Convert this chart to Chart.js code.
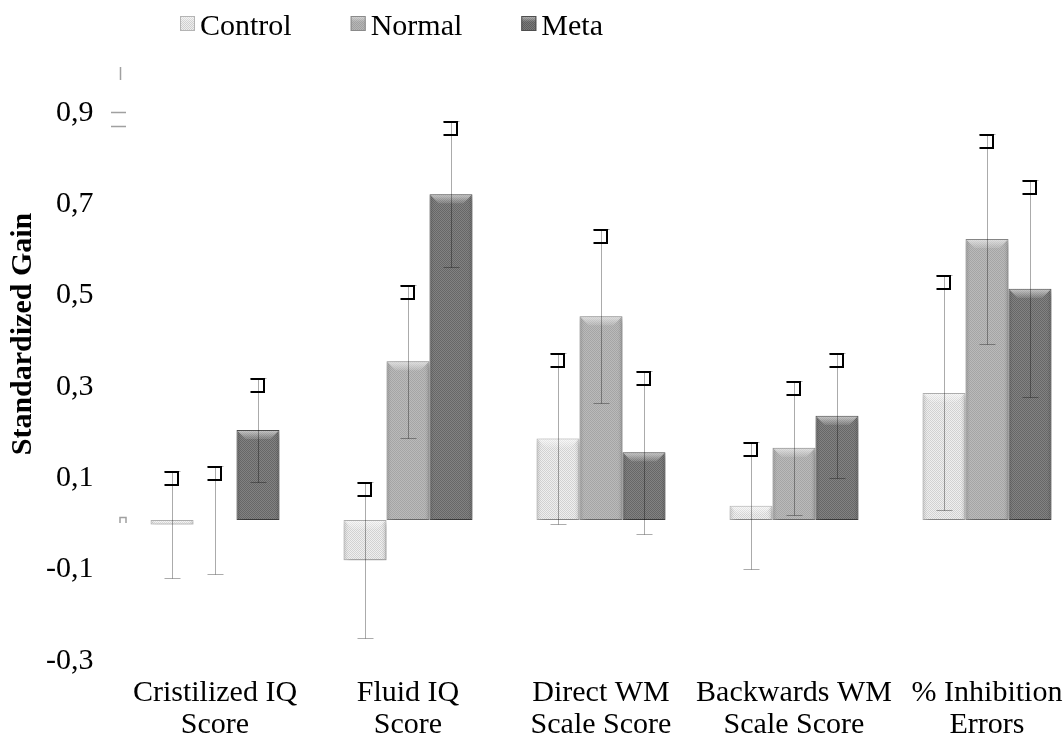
<!DOCTYPE html>
<html>
<head>
<meta charset="utf-8">
<script src="https://cdn.jsdelivr.net/npm/chart.js@4/dist/chart.umd.min.js"></script>
<style>
  html, body { margin: 0; padding: 0; background: #fff; overflow: hidden; }
  #wrap { position: relative; width: 1100px; height: 740px; }
</style>
</head>
<body>
<div id="wrap"><canvas id="chart"></canvas></div>
<script>
// data
const categories = [['Cristilized IQ', 'Score'], ['Fluid IQ', 'Score'], ['Direct WM', 'Scale Score'], ['Backwards WM', 'Scale Score'], ['% Inhibition', 'Errors']];
const seriesNames = ['Control', 'Normal', 'Meta'];
const controlValues = [-0.01, -0.088, 0.178, 0.031, 0.278];
const normalValues = [0, 0.347, 0.446, 0.158, 0.615];
const metaValues = [0.197, 0.713, 0.148, 0.228, 0.506];
const controlErrors = [0.118, 0.17, 0.187, 0.139, 0.257];
const normalErrors = [0.119, 0.168, 0.19, 0.147, 0.229];
const metaErrors = [0.114, 0.159, 0.178, 0.137, 0.237];
const yTicks = [-0.3, -0.1, 0.1, 0.3, 0.5, 0.7, 0.9];

const FONT = "'Liberation Serif', 'Times New Roman', serif";

// small checker texture like the office "dotted" fills
function makePattern(light, dark) {
  const c = document.createElement('canvas');
  c.width = 2; c.height = 2;
  const g = c.getContext('2d');
  g.fillStyle = light; g.fillRect(0, 0, 2, 2);
  g.fillStyle = dark; g.fillRect(0, 0, 1, 1); g.fillRect(1, 1, 1, 1);
  return g.createPattern(c, 'repeat');
}

const fills = [
  makePattern('#eeeeee', '#cfcfcf'),
  makePattern('#b6b6b6', '#a0a0a0'),
  makePattern('#7a7a7a', '#5e5e5e')
];
const borders = ['#b4b4b4', '#8a8a8a', '#4e4e4e'];
const errors = [controlErrors, normalErrors, metaErrors];

const decor = {
  id: 'decor',
  beforeDatasetsDraw(chart) {
    const ctx = chart.ctx;
    ctx.save();
    ctx.shadowColor = 'rgba(0,0,0,0.35)';
    ctx.shadowBlur = 6;
    ctx.shadowOffsetX = 2;
    ctx.shadowOffsetY = 3;
  },
  afterDatasetsDraw(chart) {
    const ctx = chart.ctx;
    ctx.restore();
    const yScale = chart.scales.y;

    chart.data.datasets.forEach((ds, di) => {
      chart.getDatasetMeta(di).data.forEach((bar, i) => {
        const { x, y, base, width } = bar.getProps(['x', 'y', 'base', 'width'], true);
        const top = Math.min(y, base), bottom = Math.max(y, base);
        const h = bottom - top;
        const left = x - width / 2, right = x + width / 2;

        if (h > 3) {
          // side shading
          const g = ctx.createLinearGradient(left, 0, right, 0);
          g.addColorStop(0, 'rgba(0,0,0,0.14)');
          g.addColorStop(0.12, 'rgba(255,255,255,0.06)');
          g.addColorStop(0.88, 'rgba(255,255,255,0.06)');
          g.addColorStop(1, 'rgba(0,0,0,0.16)');
          ctx.fillStyle = g;
          ctx.fillRect(left + 1, top + 1, width - 2, h - 2);

          // bevel on the top edge
          const bev = Math.min(8, h / 2);
          const bg = ctx.createLinearGradient(0, top, 0, top + bev);
          bg.addColorStop(0, 'rgba(255,255,255,0.6)');
          bg.addColorStop(1, 'rgba(255,255,255,0.15)');
          ctx.fillStyle = bg;
          ctx.beginPath();
          ctx.moveTo(left + 1, top + 1);
          ctx.lineTo(right - 1, top + 1);
          ctx.lineTo(right - 1 - bev, top + 1 + bev);
          ctx.lineTo(left + 1 + bev, top + 1 + bev);
          ctx.closePath();
          ctx.fill();
        }

        // error bar
        const v = ds.data[i];
        const e = errors[di][i];
        const yHi = Math.round(yScale.getPixelForValue(v + e)) + 0.5;
        const yLo = Math.round(yScale.getPixelForValue(v - e)) + 0.5;
        const xc = Math.round(x) + 0.5;
        ctx.save();
        ctx.strokeStyle = 'rgba(0,0,0,0.33)';
        ctx.lineWidth = 1;
        ctx.beginPath();
        ctx.moveTo(xc, yHi); ctx.lineTo(xc, yLo);
        ctx.moveTo(xc - 8, yHi); ctx.lineTo(xc + 8, yHi);
        ctx.moveTo(xc - 8, yLo); ctx.lineTo(xc + 8, yLo);
        ctx.stroke();
        // the odd black bracket glyph at the top of each error bar
        ctx.strokeStyle = '#000';
        ctx.lineWidth = 2;
        ctx.beginPath();
        ctx.moveTo(xc - 8, yHi + 0.5);
        ctx.lineTo(xc + 5.5, yHi + 0.5);
        ctx.lineTo(xc + 5.5, yHi + 13.5);
        ctx.lineTo(xc - 8, yHi + 13.5);
        ctx.stroke();
        ctx.restore();
      });
    });
  },
  afterDraw(chart) {
    const ctx = chart.ctx;
    ctx.save();

    // legend
    ctx.font = '30px ' + FONT;
    ctx.textBaseline = 'alphabetic';
    ctx.textAlign = 'left';
    let lx = 180;
    seriesNames.forEach((name, i) => {
      ctx.fillStyle = fills[i];
      ctx.fillRect(lx, 16, 15, 15);
      const g = ctx.createLinearGradient(0, 16, 0, 31);
      g.addColorStop(0, 'rgba(255,255,255,0.5)');
      g.addColorStop(0.4, 'rgba(255,255,255,0)');
      ctx.fillStyle = g;
      ctx.fillRect(lx, 16, 15, 15);
      ctx.strokeStyle = borders[i];
      ctx.lineWidth = 1;
      ctx.strokeRect(lx + 0.5, 16.5, 14, 14);
      ctx.fillStyle = '#000';
      ctx.fillText(name, lx + 20, 35);
      lx += 20 + ctx.measureText(name).width + 59;
    });

    // stray marks left of the axis in the original
    ctx.strokeStyle = '#a0a0a0';
    ctx.lineWidth = 1.5;
    ctx.beginPath();
    ctx.moveTo(120.5, 67); ctx.lineTo(120.5, 80);
    ctx.moveTo(111, 112.5); ctx.lineTo(126, 112.5);
    ctx.moveTo(111, 126.5); ctx.lineTo(126, 126.5);
    ctx.moveTo(120, 523); ctx.lineTo(120, 517.5); ctx.lineTo(126, 517.5); ctx.lineTo(126, 523);
    ctx.stroke();

    // y axis title
    ctx.translate(23, 334);
    ctx.rotate(-Math.PI / 2);
    ctx.fillStyle = '#000';
    ctx.font = 'bold 30px ' + FONT;
    ctx.textAlign = 'center';
    ctx.textBaseline = 'middle';
    ctx.fillText('Standardized Gain', 0, 0);
    ctx.restore();
  }
};

Chart.defaults.font.family = FONT;
Chart.defaults.color = '#000';

const seriesValues = [controlValues, normalValues, metaValues];

new Chart(document.getElementById('chart'), {
  type: 'bar',
  data: {
    labels: categories,
    datasets: seriesNames.map((name, i) => ({
      label: name,
      data: seriesValues[i],
      backgroundColor: fills[i],
      borderColor: borders[i],
      borderWidth: 1,
      borderSkipped: false,
      categoryPercentage: 0.668,
      barPercentage: 1.0
    }))
  },
  options: {
    responsive: true,
    maintainAspectRatio: false,
    animation: false,
    layout: { padding: { top: 63, right: 16.5, left: 0, bottom: 0 } },
    plugins: {
      legend: { display: false },
      tooltip: { enabled: false }
    },
    scales: {
      x: {
        grid: { display: false, drawTicks: false },
        border: { display: false },
        ticks: { font: { size: 30, lineHeight: 1.07 }, padding: 20, maxRotation: 0, autoSkip: false },
        afterFit: s => { s.height = 83; }
      },
      y: {
        min: -0.3,
        max: 1.0,
        grid: { display: false, drawTicks: false },
        border: { display: false },
        afterBuildTicks: s => { s.ticks = yTicks.map(v => ({ value: v })); },
        ticks: {
          font: { size: 30 },
          padding: 25,
          labelOffset: 4,
          callback: v => v.toFixed(1).replace('.', ',')
        },
        afterFit: s => { s.width = 118.5; }
      }
    }
  },
  plugins: [decor]
});
</script>
</body>
</html>
